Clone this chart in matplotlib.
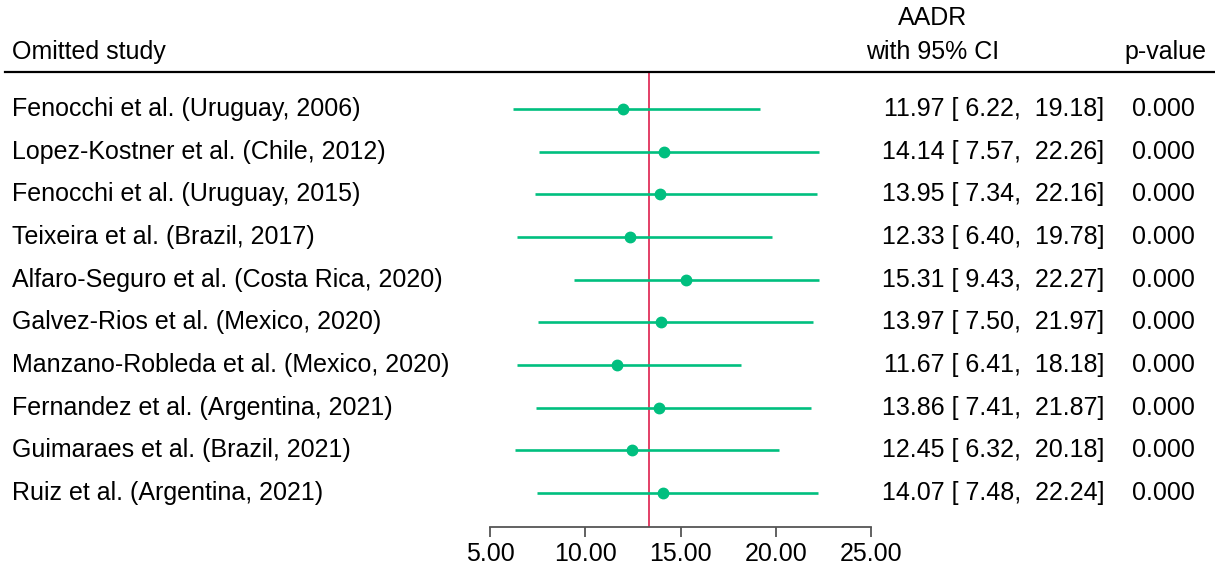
import matplotlib as mpl
mpl.use('Agg')
import matplotlib.pyplot as plt
from matplotlib.transforms import blended_transform_factory

studies = [
    "Fenocchi et al. (Uruguay, 2006)",
    "Lopez-Kostner et al. (Chile, 2012)",
    "Fenocchi et al. (Uruguay, 2015)",
    "Teixeira et al. (Brazil, 2017)",
    "Alfaro-Seguro et al. (Costa Rica, 2020)",
    "Galvez-Rios et al. (Mexico, 2020)",
    "Manzano-Robleda et al. (Mexico, 2020)",
    "Fernandez et al. (Argentina, 2021)",
    "Guimaraes et al. (Brazil, 2021)",
    "Ruiz et al. (Argentina, 2021)",
]
aadr = [11.97, 14.14, 13.95, 12.33, 15.31, 13.97, 11.67, 13.86, 12.45, 14.07]
ci_low = [6.22, 7.57, 7.34, 6.40, 9.43, 7.50, 6.41, 7.41, 6.32, 7.48]
ci_high = [19.18, 22.26, 22.16, 19.78, 22.27, 21.97, 18.18, 21.87, 20.18, 22.24]
pvals = [0.000] * 10
overall = 13.33
xticks = [5, 10, 15, 20, 25]

W, H = 1215, 567
green = '#00bf7f'
red = '#e0305a'

plt.rcParams['font.family'] = ['Liberation Sans', 'DejaVu Sans']
fig = plt.figure(figsize=(W / 100, H / 100), dpi=100)

# forest panel: x 490..871 px, y 72..527 px
top_px, bot_px, row0_px, step_px = 72, 527, 109, 42.67
ax = fig.add_axes([490 / W, 1 - bot_px / H, 381 / W, (bot_px - top_px) / H])
ax.set_xlim(5, 25)
ax.set_ylim((bot_px - row0_px) / step_px, -(row0_px - top_px) / step_px)

rows = list(range(len(studies)))
ax.hlines(rows, ci_low, ci_high, color=green, lw=1.9)
ax.plot(aadr, rows, 'o', color=green, ms=7.5)
ax.axvline(overall, color=red, lw=1.3, zorder=0)

for s in ['top', 'right', 'left']:
    ax.spines[s].set_visible(False)
ax.spines['bottom'].set_color('#555555')
ax.spines['bottom'].set_linewidth(1.3)
ax.set_yticks([])
ax.set_xticks(xticks)
ax.set_xticklabels([f"{t:.2f}" for t in xticks], fontsize=18)
ax.tick_params(axis='x', direction='out', length=7, width=1.3, color='#555555', pad=4)

tr = blended_transform_factory(fig.transFigure, ax.transData)
for i, name in enumerate(studies):
    ax.text(12 / W, i, name, transform=tr, fontsize=18, va='center', ha='left', clip_on=False)
    ax.text(1104 / W, i, f"{aadr[i]:.2f} [{ci_low[i]:5.2f}, {ci_high[i]:6.2f}]",
            transform=tr, fontsize=18, va='center', ha='right', clip_on=False)
    ax.text(1163 / W, i, f"{pvals[i]:.3f}", transform=tr, fontsize=18,
            va='center', ha='center', clip_on=False)

# header
fig.text(12 / W, 1 - 52 / H, "Omitted study", fontsize=18, va='center', ha='left')
fig.text(933 / W, 1 - 18 / H, "AADR", fontsize=18, va='center', ha='center')
fig.text(933 / W, 1 - 52 / H, "with 95% CI", fontsize=18, va='center', ha='center')
fig.text(1165 / W, 1 - 52 / H, "p-value", fontsize=18, va='center', ha='center')
fig.add_artist(plt.Line2D([5 / W, 1], [1 - top_px / H] * 2, color='black', lw=1.6,
                          transform=fig.transFigure))

fig.savefig('out.png', dpi=100)
